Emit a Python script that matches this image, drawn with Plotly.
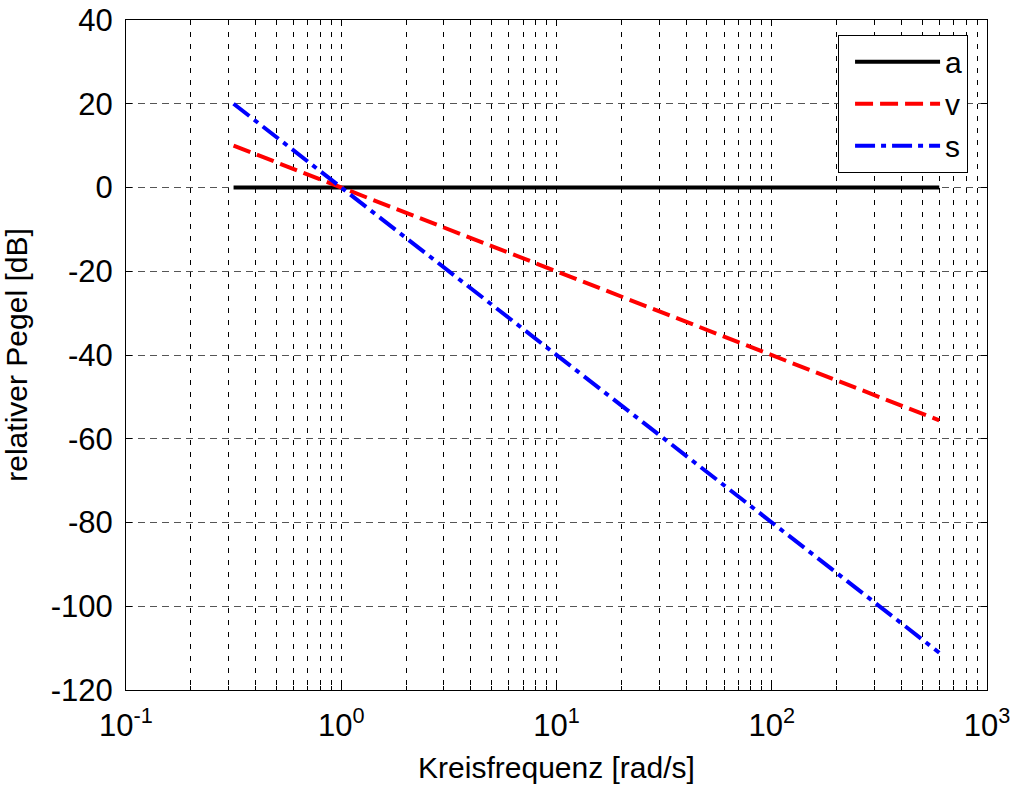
import plotly.graph_objects as go

# Data
freq = [0.316, 1, 3.16, 10, 31.6, 100, 316, 600]
a_level = [0, 0, 0, 0, 0, 0, 0, 0]
v_level = [10, 0, -10, -20, -30, -40, -50, -55.6]
s_level = [20, 0, -20, -40, -60, -80, -100, -111.1]

x_tickvals = [0.1, 1, 10, 100, 1000]
x_ticktext = ["10<sup>-1</sup>", "10<sup>0</sup>", "10<sup>1</sup>", "10<sup>2</sup>", "10<sup>3</sup>"]
y_tickvals = [-120, -100, -80, -60, -40, -20, 0, 20, 40]
y_ticktext = ["-120", "-100", "-80", "-60", "-40", "-20", "0", "20", "40"]

FONT = "Liberation Sans"

fig = go.Figure()
fig.add_trace(go.Scatter(x=freq, y=a_level, mode="lines", name="a",
                         line=dict(color="black", width=4)))
fig.add_trace(go.Scatter(x=freq, y=v_level, mode="lines", name="v",
                         line=dict(color="#ff0000", width=4, dash="18px,7px")))
fig.add_trace(go.Scatter(x=freq, y=s_level, mode="lines", name="s",
                         line=dict(color="#0000ff", width=4, dash="20px,6px,5px,6px")))

fig.update_layout(
    width=1012, height=787,
    margin=dict(l=126, r=25, t=20, b=97, autoexpand=False),
    paper_bgcolor="white", plot_bgcolor="white",
    font=dict(family=FONT, size=30, color="black"),
    showlegend=True,
    legend=dict(x=0.978, y=0.978, xanchor="right", yanchor="top",
                bgcolor="white", bordercolor="black", borderwidth=1,
                font=dict(size=30), itemwidth=85, tracegroupgap=0,
                indentation=11),
    xaxis=dict(
        type="log", range=[-1, 3], automargin=False,
        tickmode="array", tickvals=x_tickvals, ticktext=x_ticktext,
        ticks="inside", ticklen=6, tickcolor="black", ticklabelstandoff=8,
        showline=True, linecolor="black", linewidth=1, mirror="allticks",
        showgrid=True, gridcolor="black", gridwidth=1, griddash="5px,7px",
        minor=dict(dtick="D1", showgrid=True, gridcolor="black", gridwidth=1,
                   griddash="5px,7px", ticks="inside", ticklen=4, tickcolor="black"),
        zeroline=False,
        title=dict(text="Kreisfrequenz [rad/s]", font=dict(size=30), standoff=14),
        tickfont=dict(size=31),
    ),
    yaxis=dict(
        range=[-120, 40], automargin=False,
        tickmode="array", tickvals=y_tickvals, ticktext=y_ticktext,
        ticks="inside", ticklen=6, tickcolor="black", ticklabelstandoff=6,
        showline=True, linecolor="black", linewidth=1, mirror="ticks",
        showgrid=True, gridcolor="#555555", gridwidth=1, griddash="7px,5px",
        zeroline=False,
        title=dict(text="relativer Pegel [dB]", font=dict(size=30), standoff=22),
        tickfont=dict(size=31),
    ),
)

fig.write_html("out.html")
